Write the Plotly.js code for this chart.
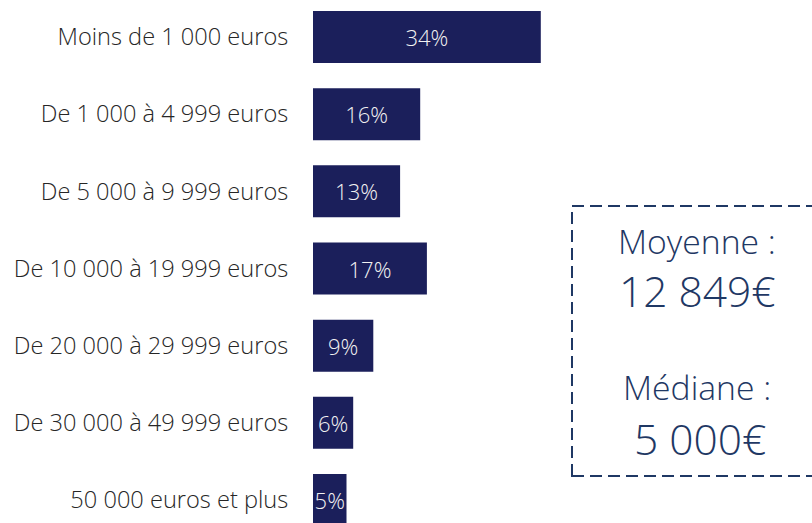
<!DOCTYPE html>
<html>
<head>
<meta charset="utf-8">
<script src="https://cdn.plot.ly/plotly-3.0.1.min.js"></script>
<style>html,body{margin:0;padding:0;background:#fff;}#chart{width:812px;height:523px;}</style>
</head>
<body>
<div id="chart"></div>
<script>
const categories = [
  "Moins de 1 000 euros",
  "De 1 000 à 4 999 euros",
  "De 5 000 à 9 999 euros",
  "De 10 000 à 19 999 euros",
  "De 20 000 à 29 999 euros",
  "De 30 000 à 49 999 euros",
  "50 000 euros et plus"
];
const values = [34, 16, 13, 17, 9, 6, 5];
const valueLabels = values.map(v => v + "%");
const boxLines = ["Moyenne :", "12 849€", "Médiane :", "5 000€"];

const W = 812, H = 523, L = 313;
const pxPerUnit = 6.7;
const xMax = (W - L) / pxPerUnit;
const step = 77.17, firstCenter = 37;
const yTop = -firstCenter / step;
const yBottom = (H - firstCenter) / step;

const trace = {
  type: "bar",
  orientation: "h",
  x: values,
  y: categories,
  text: valueLabels,
  textposition: "inside",
  insidetextanchor: "middle",
  textangle: 0,
  constraintext: "none",
  textfont: {family: "Open Sans", size: 22, color: "#f2f2f2", weight: 300},
  marker: {color: "#1b1f5b"},
  hoverinfo: "none",
  cliponaxis: false
};

const px2x = p => (p - L) / (W - L);
const px2y = p => 1 - p / H;
const boxFont = {family: "Open Sans", color: "#1f3864", weight: 300};

const layout = {
  width: W, height: H,
  margin: {l: L, r: 0, t: 0, b: 0, pad: 0},
  paper_bgcolor: "#fff", plot_bgcolor: "#fff",
  showlegend: false,
  bargap: 0.326,
  xaxis: {range: [0, xMax], visible: false, fixedrange: true},
  yaxis: {
    type: "category",
    range: [yBottom, yTop],
    showgrid: false, zeroline: false, showline: false,
    ticks: "outside", ticklen: 19, tickcolor: "rgba(0,0,0,0)",
    tickfont: {family: "Open Sans", size: 23.6, color: "#262626", weight: 300},
    automargin: false
  },
  shapes: [{
    type: "rect", xref: "paper", yref: "paper",
    x0: px2x(572), x1: px2x(830), y0: px2y(476), y1: px2y(206),
    line: {color: "#1f3864", width: 2, dash: "12px,6px"},
    fillcolor: "rgba(0,0,0,0)"
  }],
  annotations: [
    {text: boxLines[0], x: px2x(697), y: px2y(241), size: 33.7},
    {text: boxLines[1], x: px2x(697), y: px2y(290), size: 42.5},
    {text: boxLines[2], x: px2x(697), y: px2y(387), size: 33.7},
    {text: boxLines[3], x: px2x(700), y: px2y(438), size: 42.5}
  ].map(a => ({
    text: a.text, x: a.x, y: a.y, xref: "paper", yref: "paper",
    xanchor: "center", yanchor: "middle", showarrow: false,
    font: Object.assign({size: a.size}, boxFont)
  }))
};

Plotly.newPlot("chart", [trace], layout, {displayModeBar: false, staticPlot: true});
</script>
</body>
</html>
